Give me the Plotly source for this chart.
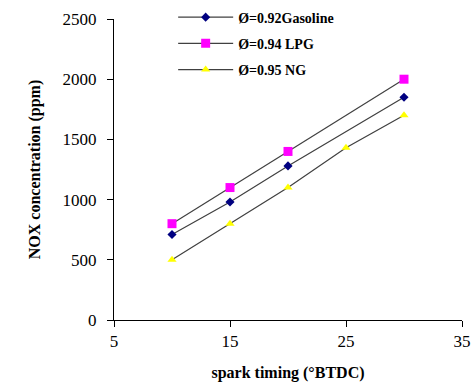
import plotly.graph_objects as go

# Spark timing (degrees BTDC) and NOx readings (ppm) per fuel
timing_gasoline = [10, 15, 20, 30]
nox_gasoline = [710, 980, 1280, 1850]

timing_lpg = [10, 15, 20, 30]
nox_lpg = [800, 1100, 1400, 2000]

timing_ng = [10, 15, 20, 25, 30]
nox_ng = [500, 800, 1100, 1430, 1700]

x_ticks = [5, 15, 25, 35]
y_ticks = [0, 500, 1000, 1500, 2000, 2500]

serif = "Liberation Serif, Times New Roman, serif"
line_col = "#404040"

fig = go.Figure()
fig.add_trace(go.Scatter(
    x=timing_gasoline, y=nox_gasoline, mode="lines+markers",
    name="<b>Ø=0.92Gasoline</b>", legendgroup="g1",
    line=dict(color=line_col, width=1.2),
    marker=dict(symbol="diamond", size=7, color="#000080"),
))
fig.add_trace(go.Scatter(
    x=timing_lpg, y=nox_lpg, mode="lines+markers",
    name="<b>Ø=0.94 LPG</b>", legendgroup="g2",
    line=dict(color=line_col, width=1.2),
    marker=dict(symbol="square", size=9, color="#FF00FF"),
))
fig.add_trace(go.Scatter(
    x=timing_ng, y=nox_ng, mode="lines+markers",
    name="<b>Ø=0.95 NG</b>", legendgroup="g3",
    line=dict(color=line_col, width=1.2),
    marker=dict(symbol="triangle-up", size=8, color="#FFFF00"),
))

axis_common = dict(
    showline=True, linecolor="#000000", linewidth=1,
    ticks="outside", ticklen=6, tickcolor="#000000", tickwidth=1,
    showgrid=False, zeroline=False,
    tickfont=dict(family=serif, size=17, color="#000000"),
)

fig.update_layout(
    width=474, height=382,
    margin=dict(l=114, r=12, t=19, b=62, autoexpand=False),
    paper_bgcolor="#ffffff", plot_bgcolor="#ffffff",
    font=dict(family=serif, color="#000000"),
    xaxis=dict(
        range=[5, 35], tickvals=x_ticks, ticktext=[str(v) for v in x_ticks],
        title=dict(text="<b>spark timing (°BTDC)</b>", font=dict(family=serif, size=16), standoff=16),
        **axis_common,
    ),
    yaxis=dict(
        range=[0, 2500], tickvals=y_ticks, ticktext=[str(v) for v in y_ticks],
        ticklabelstandoff=7,
        title=dict(text="<b>NOX concentration (ppm)</b>", font=dict(family=serif, size=16), standoff=17),
        **axis_common,
    ),
    legend=dict(
        x=0.17, y=1.058, xanchor="left", yanchor="top",
        bgcolor="rgba(0,0,0,0)", borderwidth=0,
        font=dict(family=serif, size=14, color="#000000"),
        tracegroupgap=5, itemwidth=55,
    ),
)

fig.write_html("out.html")
